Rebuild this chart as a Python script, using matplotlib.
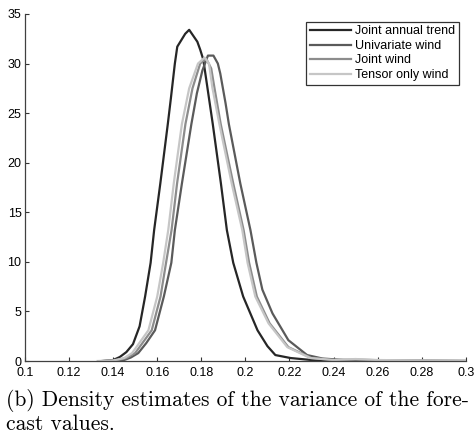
import matplotlib
matplotlib.use("Agg")
import matplotlib.pyplot as plt

# Density estimates of the forecast variance, one curve per model
jat_x = [0.135, 0.140, 0.143, 0.146, 0.149, 0.152, 0.1545, 0.157, 0.1586, 0.1614,
         0.1648, 0.1662, 0.1680, 0.1691, 0.1727, 0.1745, 0.1782, 0.1795, 0.1809,
         0.1852, 0.1889, 0.1916, 0.1945, 0.199, 0.2055, 0.210, 0.2136, 0.2205,
         0.230, 0.240]
jat_y = [0.0, 0.1, 0.4, 0.9, 1.7, 3.5, 6.5, 9.9, 13.2, 17.9,
         23.9, 26.5, 30.0, 31.7, 33.0, 33.4, 32.2, 31.4, 30.4,
         23.9, 17.9, 13.2, 9.9, 6.5, 3.1, 1.5, 0.6, 0.3,
         0.1, 0.0]

uni_x = [0.140, 0.145, 0.148, 0.1514, 0.155, 0.159, 0.163, 0.1664, 0.168, 0.1712,
         0.1755, 0.178, 0.1805, 0.183, 0.1855, 0.1875, 0.1886, 0.191, 0.1925,
         0.1977, 0.2023, 0.205, 0.2077, 0.2123, 0.2195, 0.228, 0.235, 0.245,
         0.260, 0.280, 0.300]
uni_y = [0.0, 0.1, 0.35, 0.8, 1.8, 3.1, 6.5, 9.9, 13.2, 17.9,
         23.9, 27.0, 29.3, 30.8, 30.8, 30.0, 29.0, 26.0, 23.9,
         17.9, 13.2, 9.9, 7.2, 4.8, 2.1, 0.6, 0.25, 0.1,
         0.05, 0.03, 0.0]

jw_x = [0.136, 0.142, 0.146, 0.150, 0.1575, 0.1615, 0.164, 0.1665, 0.169, 0.1728,
        0.176, 0.1795, 0.1822, 0.1845, 0.186, 0.1888, 0.1945, 0.1992, 0.2017,
        0.2052, 0.211, 0.2195, 0.230, 0.240, 0.250, 0.260, 0.280, 0.300]
jw_y = [0.0, 0.1, 0.3, 0.8, 3.1, 6.5, 9.9, 13.2, 17.9, 23.9,
        27.5, 30.0, 30.5, 29.5, 27.5, 23.9, 17.9, 13.2, 9.9,
        6.5, 3.8, 1.4, 0.3, 0.1, 0.15, 0.08, 0.05, 0.02]

ten_x = [0.133, 0.140, 0.145, 0.1486, 0.156, 0.160, 0.1627, 0.165, 0.1675, 0.1712,
         0.1745, 0.1785, 0.1815, 0.1835, 0.185, 0.1882, 0.1938, 0.1986, 0.201,
         0.2045, 0.2105, 0.219, 0.2295, 0.240, 0.250, 0.260, 0.280, 0.300]
ten_y = [0.0, 0.05, 0.3, 0.8, 3.1, 6.5, 9.9, 13.2, 17.9, 23.9,
         27.5, 30.0, 30.6, 30.0, 27.6, 23.9, 17.9, 13.2, 9.9,
         6.5, 3.8, 1.4, 0.3, 0.1, 0.2, 0.1, 0.05, 0.03]

labels = ["Joint annual trend", "Univariate wind", "Joint wind", "Tensor only wind"]
colors = ["#262626", "#5a5a5a", "#8c8c8c", "#c6c6c6"]

xticks = [0.1, 0.12, 0.14, 0.16, 0.18, 0.2, 0.22, 0.24, 0.26, 0.28, 0.3]
xticklabels = ["0.1", "0.12", "0.14", "0.16", "0.18", "0.2", "0.22", "0.24", "0.26", "0.28", "0.3"]
yticks = [0, 5, 10, 15, 20, 25, 30, 35]

plt.rcParams["font.family"] = ["Liberation Sans", "DejaVu Sans"]

fig = plt.figure(figsize=(4.75, 4.36), dpi=100)
ax = fig.add_axes([0.0526, 0.172, 0.928, 0.796])

series = [(jat_x, jat_y), (uni_x, uni_y), (jw_x, jw_y), (ten_x, ten_y)]
for (xs, ys), lab, col in zip(series, labels, colors):
    ax.plot(xs, ys, color=col, lw=1.6, label=lab, solid_joinstyle="round")

ax.set_xlim(0.1, 0.3)
ax.set_ylim(0, 35)
ax.set_xticks(xticks)
ax.set_xticklabels(xticklabels)
ax.set_yticks(yticks)
ax.tick_params(direction="in", length=3, width=0.8, labelsize=9,
               colors="#333333", labelcolor="black")
ax.tick_params(axis="x", pad=4.5)
ax.tick_params(axis="y", pad=2.5)
for side in ("top", "right"):
    ax.spines[side].set_visible(False)
for side in ("left", "bottom"):
    ax.spines[side].set_color("#404040")
    ax.spines[side].set_linewidth(0.9)

leg = ax.legend(loc="upper right", bbox_to_anchor=(0.99, 0.985), fontsize=9,
                frameon=True, fancybox=False, handlelength=3.3, handletextpad=0.3,
                labelspacing=0.2, borderpad=0.3, borderaxespad=0.2)
leg.get_frame().set_edgecolor("black")
leg.get_frame().set_linewidth(0.9)

fig.text(0.013, 0.068, "(b) Density estimates of the variance of the fore-",
         family="cmr10", fontsize=15.5, ha="left", va="baseline")
fig.text(0.013, 0.013, "cast values.",
         family="cmr10", fontsize=15.5, ha="left", va="baseline")

fig.savefig("out.png", dpi=100)
